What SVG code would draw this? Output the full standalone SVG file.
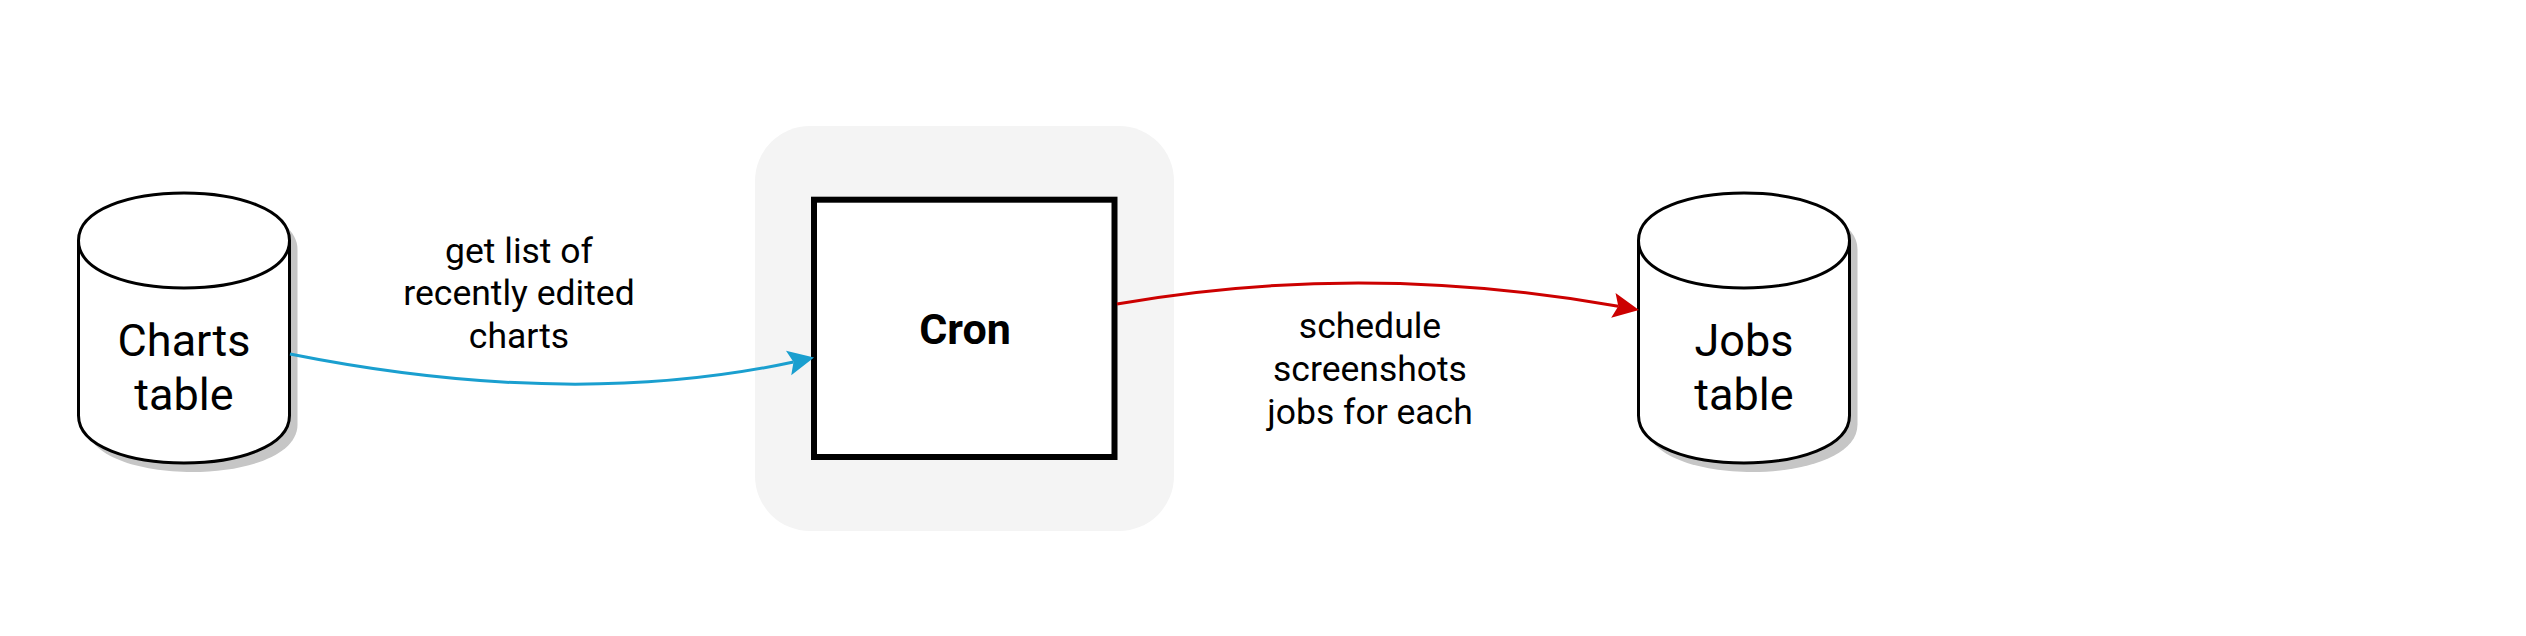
<svg xmlns="http://www.w3.org/2000/svg" width="2526" height="636" viewBox="0 0 2526 636">
<style>
.cyl{fill:#ffffff;stroke:#000000;stroke-width:3}
.cyl-in{fill:none;stroke:#000000;stroke-width:3}
.shadow{fill:#c6c6c6;stroke:none}
.t{font-family:Roboto,"Liberation Sans",sans-serif;fill:#000000;text-anchor:middle}
.big{font-size:45px}
.lbl{font-size:35.5px}
.bold{font-size:43px;font-weight:bold}
.edge{fill:none;stroke-width:3}
</style>
<defs>
<path id="cylShape" d="M78.5,240.5 C78.5,177.2 289.5,177.2 289.5,240.5 L289.5,415.5 C289.5,478.8 78.5,478.8 78.5,415.5 Z"/>
<marker id="arrBlue" markerUnits="userSpaceOnUse" markerWidth="27" markerHeight="26" refX="5" refY="12.5" orient="auto" overflow="visible">
<path d="M0,0 L26,12.5 L0,25 L5,12.5 Z" fill="#1a9fcf"/>
</marker>
<marker id="arrRed" markerUnits="userSpaceOnUse" markerWidth="27" markerHeight="26" refX="5" refY="12.5" orient="auto" overflow="visible">
<path d="M0,0 L26,12.5 L0,25 L5,12.5 Z" fill="#cc0000"/>
</marker>
</defs>
<rect width="2526" height="636" fill="#ffffff"/>
<g id="cron-group">
<rect x="755" y="126" width="419" height="405" rx="55" ry="55" fill="#f4f4f4"/>
</g>
<g id="charts-table">
<use href="#cylShape" class="shadow" transform="translate(8,9)"/>
<use href="#cylShape" class="cyl"/>
<path class="cyl-in" d="M78.5,240.5 C78.5,303.8 289.5,303.8 289.5,240.5"/>
<text class="t big" x="184" y="356">Charts</text>
<text class="t big" x="184" y="410">table</text>
</g>
<g id="jobs-table">
<g transform="translate(1560,0)">
<use href="#cylShape" class="shadow" transform="translate(8,9)"/>
<use href="#cylShape" class="cyl"/>
<path class="cyl-in" d="M78.5,240.5 C78.5,303.8 289.5,303.8 289.5,240.5"/>
</g>
<text class="t big" x="1744" y="356">Jobs</text>
<text class="t big" x="1744" y="410">table</text>
</g>
<g id="cron">
<rect x="814" y="199.7" width="300.5" height="257.3" fill="#ffffff" stroke="#000000" stroke-width="6"/>
<text class="t bold" x="965" y="344">Cron</text>
</g>
<g id="connectors">
<path class="edge" stroke="#1a9fcf" d="M290,354 Q570,410 793.5,362" marker-end="url(#arrBlue)"/>
<text class="t lbl" x="519" y="263">get list of</text>
<text class="t lbl" x="519" y="305">recently edited</text>
<text class="t lbl" x="519" y="348">charts</text>
<path class="edge" stroke="#cc0000" d="M1117,304 Q1362,261 1618.3,306.3" marker-end="url(#arrRed)"/>
<text class="t lbl" x="1370" y="338">schedule</text>
<text class="t lbl" x="1370" y="381">screenshots</text>
<text class="t lbl" x="1370" y="424">jobs for each</text>
</g>
</svg>
